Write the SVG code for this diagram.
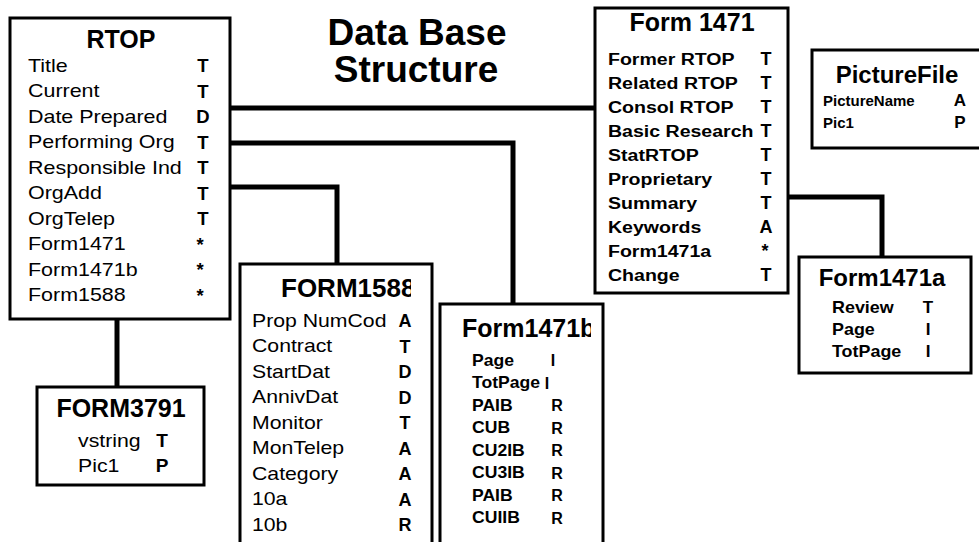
<svg xmlns="http://www.w3.org/2000/svg" width="979" height="542" viewBox="0 0 979 542">
<style>
.box{fill:#fff;stroke:#000;stroke-width:3}
.conn{fill:none;stroke:#000;stroke-width:5}
text{font-family:"Liberation Sans",Arial,Helvetica,sans-serif;fill:#000}
.ttl{font-weight:bold;font-size:25px}
.big{font-size:37px}
.mid{text-anchor:middle}
.typ text{font-weight:bold;text-anchor:middle}
.b text{font-weight:bold}
</style>
<defs>
<clipPath id="clip1588"><rect x="240" y="264" width="171" height="50"/></clipPath>
<clipPath id="clip1471b"><rect x="440" y="304" width="151" height="50"/></clipPath>
</defs>
<rect width="979" height="542" fill="#fff"/>

<g id="title">
<text class="ttl big mid" x="417" y="45">Data Base</text>
<text class="ttl big mid" x="416" y="82">Structure</text>
</g>

<g id="connectors">
<path class="conn" d="M230 108 H595"/>
<path class="conn" d="M230 143 H513 V304"/>
<path class="conn" d="M230 187 H337 V264"/>
<path class="conn" d="M117 319 V387"/>
<path class="conn" d="M788 197 H882 V257"/>
</g>

<g id="rtop">
<rect class="box" x="10" y="18" width="220" height="301"/>
<text class="ttl mid" x="121" y="48">RTOP</text>
<g font-size="18.5" transform="translate(28 0) scale(1.16 1)">
<text y="72">Title</text>
<text y="97.5">Current</text>
<text y="123">Date Prepared</text>
<text y="148.5">Performing Org</text>
<text y="174">Responsible Ind</text>
<text y="199.5">OrgAdd</text>
<text y="225">OrgTelep</text>
<text y="250.5">Form1471</text>
<text y="276">Form1471b</text>
<text y="301.5">Form1588</text>
</g>
<g class="typ" font-size="18.5">
<text x="203" y="72">T</text>
<text x="203" y="97.5">T</text>
<text x="203" y="123">D</text>
<text x="203" y="148.5">T</text>
<text x="203" y="174">T</text>
<text x="203" y="199.5">T</text>
<text x="203" y="225">T</text>
<text x="200" y="250.5">*</text>
<text x="200" y="276">*</text>
<text x="200" y="301.5">*</text>
</g>
</g>

<g id="form1471">
<rect class="box" x="595" y="8" width="193" height="285"/>
<text class="ttl mid" x="692" y="31">Form 1471</text>
<g class="b" font-size="17" transform="translate(608 0) scale(1.15 1)">
<text y="65">Former RTOP</text>
<text y="89">Related RTOP</text>
<text y="113">Consol RTOP</text>
<text y="137">Basic Research</text>
<text y="161">StatRTOP</text>
<text y="185">Proprietary</text>
<text y="209">Summary</text>
<text y="233">Keywords</text>
<text y="257">Form1471a</text>
<text y="281">Change</text>
</g>
<g class="typ" font-size="18">
<text x="766" y="65">T</text>
<text x="766" y="89">T</text>
<text x="766" y="113">T</text>
<text x="766" y="137">T</text>
<text x="766" y="161">T</text>
<text x="766" y="185">T</text>
<text x="766" y="209">T</text>
<text x="766" y="233">A</text>
<text x="765" y="257">*</text>
<text x="766" y="281">T</text>
</g>
</g>

<g id="picturefile">
<rect class="box" x="812" y="50" width="185" height="98"/>
<text class="ttl mid" x="897" y="83" style="font-size:24px">PictureFile</text>
<g class="b" font-size="15">
<text x="823" y="106">PictureName</text>
<text x="823" y="128">Pic1</text>
</g>
<g class="typ" font-size="17">
<text x="960" y="106">A</text>
<text x="960" y="128">P</text>
</g>
</g>

<g id="form1471a">
<rect class="box" x="799" y="257" width="172" height="116"/>
<text class="ttl mid" x="882" y="286" style="font-size:24px">Form1471a</text>
<g class="b" font-size="16" transform="translate(832 0) scale(1.12 1)">
<text y="313">Review</text>
<text y="335">Page</text>
<text y="357">TotPage</text>
</g>
<g class="typ" font-size="17">
<text x="928" y="313">T</text>
<text x="928" y="335">I</text>
<text x="928" y="357">I</text>
</g>
</g>

<g id="form1588">
<rect class="box" x="240" y="264" width="192" height="300"/>
<text class="ttl" x="281" y="297" clip-path="url(#clip1588)" style="font-size:26px">FORM1588</text>
<g font-size="18" transform="translate(252 0) scale(1.18 1)">
<text y="327">Prop NumCod</text>
<text y="352.5">Contract</text>
<text y="378">StartDat</text>
<text y="403.5">AnnivDat</text>
<text y="429">Monitor</text>
<text y="454.5">MonTelep</text>
<text y="480">Category</text>
<text y="505.5">10a</text>
<text y="531">10b</text>
</g>
<g class="typ" font-size="18">
<text x="405" y="327">A</text>
<text x="405" y="352.5">T</text>
<text x="405" y="378">D</text>
<text x="405" y="403.5">D</text>
<text x="405" y="429">T</text>
<text x="405" y="454.5">A</text>
<text x="405" y="480">A</text>
<text x="405" y="505.5">A</text>
<text x="405" y="531">R</text>
</g>
</g>

<g id="form1471b">
<rect class="box" x="440" y="304" width="163" height="260"/>
<text class="ttl" x="462" y="337" clip-path="url(#clip1471b)">Form1471b</text>
<g class="b" font-size="16" transform="translate(472 0) scale(1.1 1)">
<text y="366">Page</text>
<text y="388.5">TotPage</text>
<text y="411">PAIB</text>
<text y="433.5">CUB</text>
<text y="456">CU2IB</text>
<text y="478.5">CU3IB</text>
<text y="501">PAIB</text>
<text y="523.5">CUIIB</text>
</g>
<g class="typ" font-size="16">
<text x="553" y="366">I</text>
<text x="547" y="388.5">I</text>
<text x="557" y="411">R</text>
<text x="557" y="433.5">R</text>
<text x="557" y="456">R</text>
<text x="557" y="478.5">R</text>
<text x="557" y="501">R</text>
<text x="557" y="523.5">R</text>
</g>
</g>

<g id="form3791">
<rect class="box" x="37" y="387" width="167" height="98"/>
<text class="ttl mid" x="121" y="417">FORM3791</text>
<g font-size="19" transform="translate(78 0) scale(1.12 1)">
<text y="447">vstring</text>
<text y="472">Pic1</text>
</g>
<g class="typ" font-size="19">
<text x="162" y="447">T</text>
<text x="162" y="472">P</text>
</g>
</g>
</svg>
